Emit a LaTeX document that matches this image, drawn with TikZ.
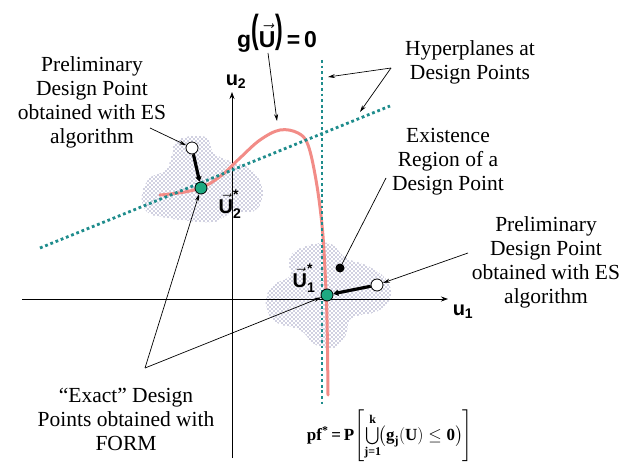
\documentclass[tikz,border=0pt]{standalone}
\usepackage{fontspec}
\setmainfont{Liberation Serif}
\setsansfont{Liberation Sans}
\usepackage{amsmath,graphicx}
\usetikzlibrary{patterns,arrows.meta}
\definecolor{curvered}{RGB}{242,140,135}
\definecolor{hypteal}{RGB}{30,140,140}
\definecolor{dotgreen}{RGB}{30,170,130}
\definecolor{blobblue}{RGB}{55,55,125}
\pgfdeclarepatternformonly{blobdots}{\pgfpoint{-1pt}{-1pt}}{\pgfpoint{5pt}{5pt}}{\pgfpoint{4pt}{4pt}}{%
  \pgfpathcircle{\pgfpoint{0pt}{0pt}}{0.65pt}%
  \pgfpathcircle{\pgfpoint{2pt}{2pt}}{0.65pt}%
  \pgfusepath{fill}}
\begin{document}
\begin{tikzpicture}[x=1pt,y=-1pt,
  lbl/.style={font=\fontsize{21.5}{24}\selectfont, align=center, inner sep=0pt},
  sym/.style={font=\sffamily\bfseries\fontsize{20}{22}\selectfont, inner sep=0pt},
  blob/.style={pattern=blobdots, pattern color=blobblue},
  hyp/.style={draw=hypteal, line width=2.8pt, dash pattern=on 2.8pt off 2.8pt},
  gcurve/.style={draw=curvered, line width=3pt, line cap=round},
  leader/.style={draw=black, line width=0.7pt, -{Stealth[length=7pt,width=4pt]}},
  plainleader/.style={draw=black, line width=0.7pt},
  thickarrow/.style={draw=black, line width=3.2pt, -{Triangle[length=5pt,width=6pt]}},
  gdot/.style={circle, draw=black, line width=0.8pt, fill=dotgreen, minimum size=12pt, inner sep=0pt},
  wdot/.style={circle, draw=black, line width=0.8pt, fill=white, minimum size=12pt, inner sep=0pt},
  bdot/.style={circle, fill=black, minimum size=9pt, inner sep=0pt},
  axis/.style={draw=black, line width=0.8pt, -{Stealth[length=7pt,width=5pt]}}
]
\useasboundingbox (0,0) rectangle (626,465);

% existence regions
\path[blob] plot[smooth cycle, tension=0.7] coordinates {(178,140) (205,137) (214,153) (232,162) (252,170) (263,190) (256,210) (232,213) (214,222) (190,221) (168,218) (147,212) (142,195) (150,178) (166,170) (172,155)};
\path[blob] plot[smooth cycle, tension=0.7] coordinates {(297,250) (328,243) (346,258) (368,266) (386,279) (391,296) (378,311) (352,318) (346,335) (334,348) (316,345) (300,330) (276,322) (266,305) (272,286) (290,276) (289,262)};

% axes
\coordinate (xs) at (22,299); \coordinate (xe) at (448,299);
\draw[axis] (xs) -- (xe);
\coordinate (ys) at (232,458); \coordinate (ye) at (232,92);
\draw[axis] (ys) -- (ye);
\node[sym] (u1) at (463,312) {u\textsubscript{1}};
\node[sym] (u2) at (236,82) {u\textsubscript{2}};

% limit state curve
\draw[gcurve] plot[smooth, tension=0.6] coordinates {(160,195) (185,192) (205,186) (222,175) (240,158) (260,140) (280,130) (298,133) (308,145) (316,180) (322,225) (325,270) (327,320) (328,395)};

% hyperplanes
\coordinate (h1a) at (322,60); \coordinate (h1b) at (322,405);
\draw[hyp] (h1a) -- (h1b);
\coordinate (h2a) at (40,248); \coordinate (h2b) at (390,106);
\draw[hyp] (h2a) -- (h2b);

% points
\node[wdot] (W1) at (192,148) {};
\node[gdot] (G1) at (201,188) {};
\node[wdot] (W2) at (377,285) {};
\node[gdot] (G2) at (327,295) {};
\node[bdot] (B) at (340,268) {};
\draw[thickarrow] (W1) -- (G1);
\draw[thickarrow] (W2) -- (G2);

% symbol labels
\node[sym] (U2) at (230,204) {$\vec{\text{U}}^{\text{*}}_{\text{2}}$};
\node[sym] (U1) at (304,278) {$\vec{\text{U}}^{\text{*}}_{\text{1}}$};
\node[sym, font=\sffamily\bfseries\fontsize{23}{25}\selectfont] (glabel) at (277,33) {g\raisebox{0.2em}{\scalebox{1}[1.7]{(}}$\vec{\text{U}}$\raisebox{0.2em}{\scalebox{1}[1.7]{)}}\,=\,0};

% text labels
\node[lbl] (prelL) at (92,102) {Preliminary\\Design Point\\obtained with ES\\algorithm};
\node[lbl] (hyplbl) at (470,62) {Hyperplanes at\\Design Points};
\node[lbl] (exist) at (448,162) {Existence\\Region of a\\Design Point};
\node[lbl] (prelR) at (546,262) {Preliminary\\Design Point\\obtained with ES\\algorithm};
\node[lbl] (exact) at (126,419) {“Exact” Design\\Points obtained with\\FORM};
\node[inner sep=0pt, font=\bfseries\fontsize{17}{20}\selectfont] (pf) at (390,436) {pf$^{\text{*}}$\,=\,P$\left[\bigcup\limits_{\text{j=1}}^{\text{k}}\!\bigl(\text{g}_{\text{j}}(\text{U})\le\text{0}\bigr)\right]$};

% leaders
\coordinate (gTail) at (268,53); \coordinate (gHead) at (277,121);
\draw[leader] (gTail) -- (gHead);
\coordinate (hypTail) at (391,68); \coordinate (hypHead1) at (328,77); \coordinate (hypHead2) at (360,112);
\draw[leader] (hypTail) -- (hypHead1);
\draw[leader] (hypTail) -- (hypHead2);
\coordinate (exTail) at (386,178);
\draw[plainleader] (exTail) -- (B);
\coordinate (prRTail) at (468,253);
\draw[leader] (prRTail) -- (W2);
\coordinate (prLTail) at (150,128);
\draw[leader] (prLTail) -- (W1);
\coordinate (exactTail) at (145,368);
\draw[leader] (exactTail) -- (G1);
\draw[leader] (exactTail) -- (G2);
\end{tikzpicture}
\end{document}
